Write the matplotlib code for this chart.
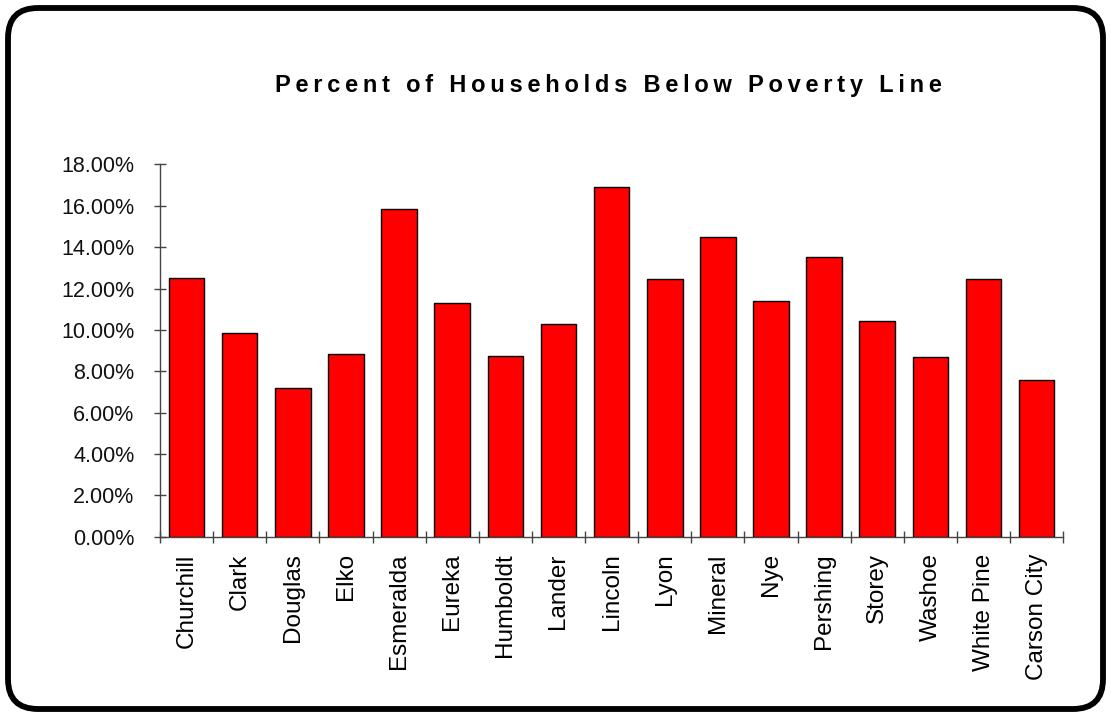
import matplotlib
matplotlib.use("Agg")
import matplotlib.pyplot as plt
from matplotlib.patches import FancyBboxPatch
from matplotlib.ticker import FixedLocator, PercentFormatter
from matplotlib.transforms import IdentityTransform

# Percent of households below poverty line, by Nevada county
counties = ["Churchill", "Clark", "Douglas", "Elko", "Esmeralda", "Eureka",
            "Humboldt", "Lander", "Lincoln", "Lyon", "Mineral", "Nye",
            "Pershing", "Storey", "Washoe", "White Pine", "Carson City"]
poverty = [12.52, 9.86, 7.20, 8.82, 15.85, 11.31, 8.72, 10.27, 16.90,
           12.46, 14.47, 11.41, 13.53, 10.44, 8.69, 12.47, 7.57]
y_ticks = [0, 2, 4, 6, 8, 10, 12, 14, 16, 18]

title = "Percent of Households Below Poverty Line"

fig = plt.figure(figsize=(11.11, 7.15), dpi=100)
ax = fig.add_axes([0.144, 0.2494, 0.813, 0.5206])

x = range(len(counties))
ax.bar(x, poverty, width=0.67, color="#ff0000", edgecolor="black", linewidth=1.0)

ax.set_xlim(-0.5, len(counties) - 0.5)
ax.set_ylim(0, 18)

# ticks sit between categories, labels at the centre of each bar
ax.xaxis.set_major_locator(FixedLocator([i - 0.5 for i in range(len(counties) + 1)]))
ax.xaxis.set_minor_locator(FixedLocator(list(x)))
ax.set_xticklabels([])
ax.set_xticklabels(counties, minor=True, rotation=90, va="top", ha="center",
                   family="Liberation Sans", fontsize=17.5)
ax.tick_params(axis="x", which="major", direction="inout", length=8.6, width=1, color="#444444")
ax.tick_params(axis="x", which="minor", length=0, pad=12)

ax.set_yticks(y_ticks)
ax.yaxis.set_major_formatter(PercentFormatter(decimals=2))
ax.tick_params(axis="y", direction="inout", length=8.6, width=1, color="#444444", pad=14)
for lab in ax.get_yticklabels():
    lab.set_family("Liberation Sans")
    lab.set_fontsize(15.5)
    lab.set_color("#111111")

for side in ["top", "right"]:
    ax.spines[side].set_visible(False)
for side in ["left", "bottom"]:
    ax.spines[side].set_color("#444444")
    ax.spines[side].set_linewidth(1.0)

# spaced-out bold title (thin spaces between letters)
spaced = "\u2009 \u2009".join("\u2009".join(word) for word in title.split(" "))
fig.text(0.548, 0.8713, spaced, ha="center", va="baseline", fontsize=17,
         fontweight="bold", family=["Liberation Sans", "DejaVu Sans"])

# rounded frame around the whole chart
frame = FancyBboxPatch((8, 6), 1095, 701, boxstyle="round,pad=0,rounding_size=30",
                       transform=IdentityTransform(), fill=False,
                       edgecolor="black", linewidth=4.2)
fig.patches.append(frame)

fig.savefig("out.png", dpi=100)
